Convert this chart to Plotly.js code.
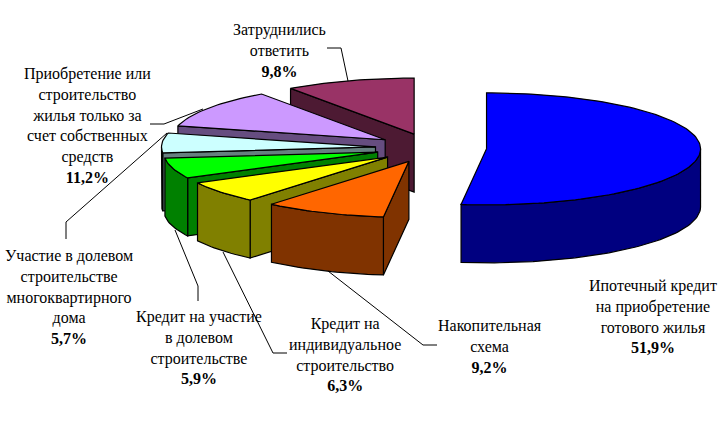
<!DOCTYPE html>
<html>
<head>
<meta charset="utf-8">
<script src="https://cdn.plot.ly/plotly-3.0.1.min.js"></script>
<style>html,body{margin:0;padding:0;background:#fff}#chart{width:724px;height:426px}</style>
</head>
<body>
<div id="chart"></div>
<script>
// Data
const categories = [
  "Ипотечный кредит<br>на приобретение<br>готового жилья",
  "Накопительная<br>схема",
  "Кредит на<br>индивидуальное<br>строительство",
  "Кредит на участие<br>в долевом<br>строительстве",
  "Участие в долевом<br>строительстве<br>многоквартирного<br>дома",
  "Приобретение или<br>строительство<br>жилья только за<br>счет собственных<br>средств",
  "Затруднились<br>ответить"
];
const values = [51.9, 9.2, 6.3, 5.9, 5.7, 11.2, 9.8];

// Style
const topColors  = ["#0000FF", "#FF6600", "#FFFF00", "#00FF00", "#CCFFFF", "#CC99FF", "#993366"];
const sideColors = ["#000080", "#803300", "#808000", "#008000", "#668080", "#664D80", "#4D1A33"];
const labelX = [653, 490, 345, 199, 68.5, 87, 279];
const labelY = [316, 346, 354, 347.5, 297, 125.5, 50.5];
const leaders = [
  "M327,48 L341,48 L348,81",
  "M150,124 L164,124 L203,109",
  "M66,239 L66,222 L167,133",
  "M198,301 L198,286 L175,230",
  "M287,353 L273,353 L223,252",
  "M437,345 L423,345 L328,271"
];
// Projection of the pie
const cx = 431, cy = 148, rx = 214, ry = 56, depth = 58, pull = 0.26;

const total = values.reduce((a, b) => a + b, 0);
const rad = d => d * Math.PI / 180;
const pt = (c, a) => [c[0] + rx * Math.sin(rad(a)), c[1] - ry * Math.cos(rad(a))];
const down = p => [p[0], p[1] + depth];

function poly(points, fill) {
  const closed = points.concat([points[0]]);
  return {
    type: "scatter", mode: "lines", hoverinfo: "skip", showlegend: false,
    x: closed.map(p => p[0]), y: closed.map(p => p[1]),
    fill: "toself", fillcolor: fill,
    line: {color: "#000000", width: 1.2, shape: "linear"}
  };
}
function arc(c, a0, a1) {
  const n = Math.max(2, Math.ceil(Math.abs(a1 - a0) / 1.5));
  const out = [];
  for (let i = 0; i <= n; i++) out.push(pt(c, a0 + (a1 - a0) * i / n));
  return out;
}

let acc = 0;
const slices = values.map((v, i) => {
  const a0 = acc / total * 360; acc += v;
  const a1 = acc / total * 360;
  const mid = rad((a0 + a1) / 2);
  const apex = [cx + pull * rx * Math.sin(mid), cy - pull * ry * Math.cos(mid)];
  return {i, a0, a1, apex};
});

const traces = [];
// back to front
[6, 5, 4, 3, 2, 1, 0].forEach(k => {
  const s = slices[k], side = sideColors[k];
  if (Math.sin(rad(s.a0)) < -1e-6) {
    const p = pt(s.apex, s.a0);
    traces.push(poly([p, s.apex, down(s.apex), down(p)], side));
  }
  if (Math.sin(rad(s.a1)) > 1e-6) {
    const p = pt(s.apex, s.a1);
    traces.push(poly([p, s.apex, down(s.apex), down(p)], side));
  }
  const lo = Math.max(s.a0, 90), hi = Math.min(s.a1, 270);
  if (hi > lo) {
    const rim = arc(s.apex, lo, hi);
    traces.push(poly(rim.concat(rim.map(down).reverse()), side));
  }
  traces.push(poly([s.apex].concat(arc(s.apex, s.a0, s.a1)), topColors[k]));
});

const annotations = categories.map((c, i) => ({
  xref: "x", yref: "y", x: labelX[i], y: labelY[i],
  xanchor: "center", yanchor: "middle", align: "center", showarrow: false,
  text: c + "<br><b>" + values[i].toFixed(1).replace(".", ",") + "%</b>",
  font: {family: "Liberation Serif, Times New Roman, serif", size: 16, color: "#000000"}
}));

const shapes = leaders.map(d => ({
  type: "path", xref: "x", yref: "y", path: d, layer: "above",
  line: {color: "#000000", width: 1}
}));

const hidden = {visible: false, fixedrange: true};
Plotly.newPlot("chart", traces, {
  width: 724, height: 426,
  margin: {l: 0, r: 0, t: 0, b: 0},
  paper_bgcolor: "#ffffff", plot_bgcolor: "#ffffff",
  showlegend: false,
  xaxis: Object.assign({range: [0, 724]}, hidden),
  yaxis: Object.assign({range: [426, 0]}, hidden),
  annotations, shapes
}, {displayModeBar: false, staticPlot: true});
</script>
</body>
</html>
